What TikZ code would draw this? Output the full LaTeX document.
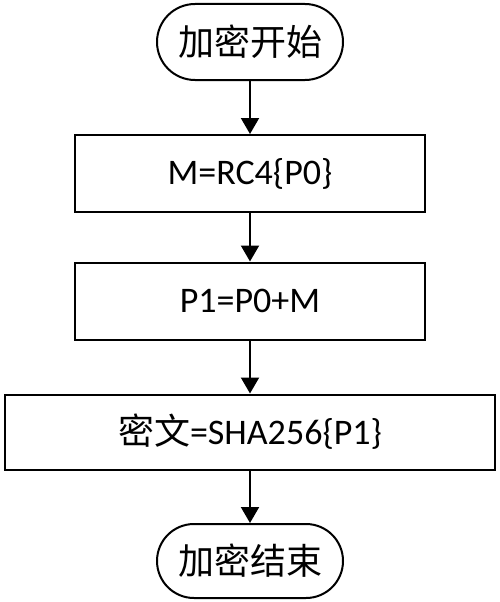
\documentclass[tikz,border=0pt]{standalone}
\usepackage{fontspec}
\setmainfont{Carlito}
\newfontfamily\cjk{Noto Sans CJK SC}
\usetikzlibrary{arrows.meta,shapes.misc}
\begin{document}
\begin{tikzpicture}[x=1pt,y=-1pt,
  every node/.style={font=\fontsize{36}{40}\selectfont, line width=2pt, draw, inner sep=0pt},
  term/.style={rounded rectangle, minimum width=186pt, minimum height=76pt},
  proc/.style={rectangle, minimum height=77pt},
  arr/.style={line width=2pt, -{Triangle[width=18pt,length=16pt]}}]
\useasboundingbox (0,0) rectangle (500,602);
\node[term] (start) at (250,42) {\cjk 加密开始};
\node[proc, minimum width=350pt] (b1) at (250,173.5) {M=RC4\{P0\}};
\node[proc, minimum width=350pt] (b2) at (250,301) {P1=P0+M};
\node[proc, minimum width=490pt, minimum height=75pt] (b3) at (250,432) {{\cjk 密文}=SHA256\{P1\}};
\node[term, minimum height=74pt] (end) at (250,561) {\cjk 加密结束};
\draw[arr] (start) -- (b1);
\draw[arr] (b1) -- (b2);
\draw[arr] (b2) -- (b3);
\draw[arr] (b3) -- (end);
\end{tikzpicture}
\end{document}
